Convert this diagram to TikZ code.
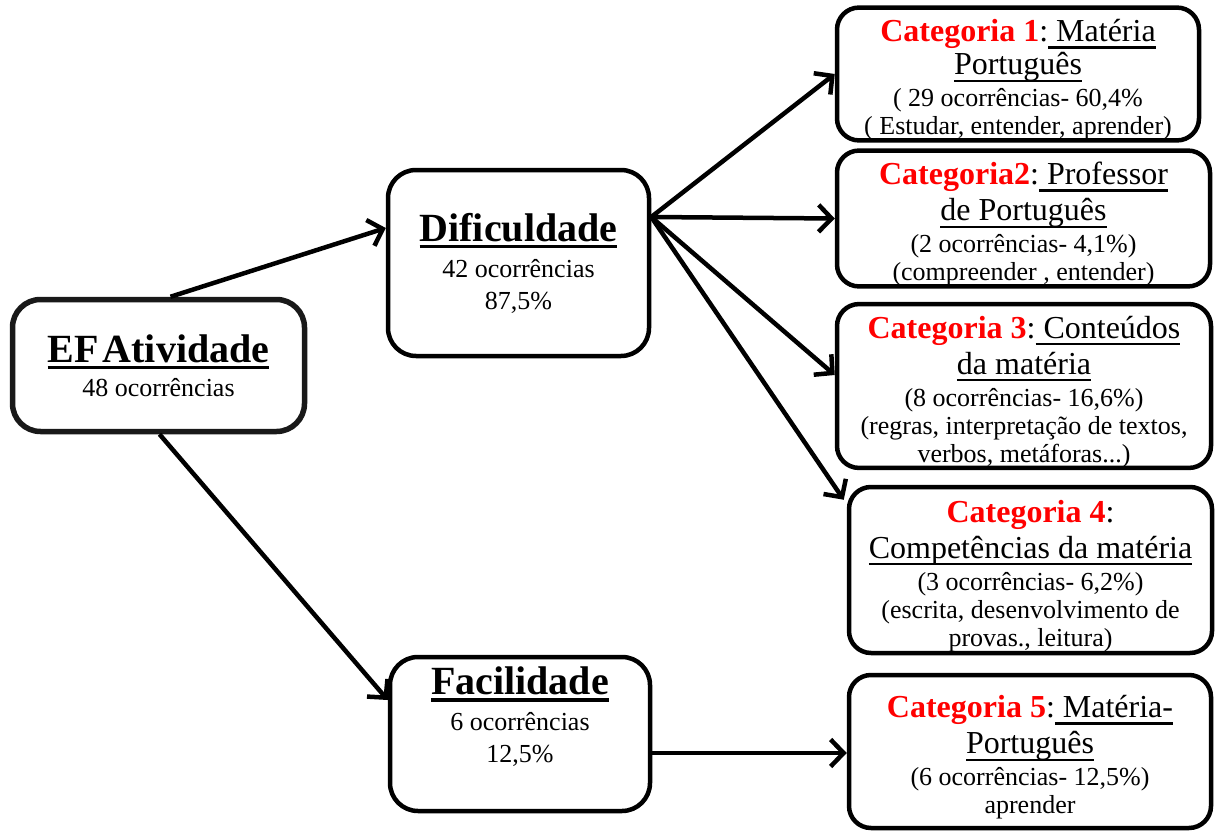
\documentclass[tikz,border=0pt]{standalone}
\usepackage{fontspec}
\setmainfont{Liberation Serif}
\usetikzlibrary{arrows.meta}
\definecolor{catred}{RGB}{255,0,0}
\newcommand{\ulfix}[3]{\setbox0=\hbox{#3}\leavevmode\rlap{\rule[-#2]{\wd0}{#1}}\box0}
\newcommand{\tul}[1]{\ulfix{3.5pt}{7pt}{#1}}
\newcommand{\cul}[1]{\ulfix{2.2pt}{7pt}{#1}}
\newcommand{\catred}[1]{\textcolor{catred}{\textbf{#1}}}
\newcommand{\hdfont}{\fontsize{32}{35}\selectfont}
\newcommand{\ttlfont}{\fontsize{40}{40}\selectfont\bfseries}
\newcommand{\topstrut}{\rule{0pt}{34pt}}
\begin{document}
\begin{tikzpicture}[x=1pt,y=-1pt,
  box/.style={draw, line width=4.5pt, rounded corners=22pt, align=center, inner sep=0pt, fill=white},
  mainbox/.style={box, rounded corners=28pt, font=\fontsize{26}{32}\selectfont},
  catbox/.style={box, font=\fontsize{26}{28}\selectfont},
  conn/.style={line width=4.5pt, -{Straight Barb[length=13pt,width=27pt]}}]
\useasboundingbox (0,0) rectangle (1218,832);

\node[mainbox, line width=5.5pt, draw=black!90, minimum width=292pt, minimum height=132pt] (ef) at (158.5,365.5)
  {{\ttlfont\tul{EF\kern4pt Atividade}}\\[2pt]48 ocorrências};
\node[mainbox, minimum width=261pt, minimum height=186pt] (dif) at (518.5,263)
  {{\ttlfont\tul{Dificuldade}}\\[4pt]42 ocorrências\\87,5\%};
\node[mainbox, minimum width=260pt, minimum height=154pt] (fac) at (520,734)
  {{\ttlfont\tul{Facilidade}}\\[4pt]6 ocorrências\\12,5\%\\[6pt]\mbox{}};

\node[catbox, minimum width=362pt, minimum height=124pt] (c1) at (1018,74)
  {{\hdfont\topstrut\catred{Categoria 1}:\cul{ Matéria}}\\[3pt]{\hdfont\cul{Português}}\\[4pt]( 29 ocorrências- 60,4\%\\( Estudar, entender, aprender)};
\node[catbox, minimum width=373pt, minimum height=133pt] (c2) at (1023.5,218.5)
  {{\hdfont\topstrut\catred{Categoria2}:\cul{ Professor}}\\[6pt]{\hdfont\cul{de Português}}\\[4pt](2 ocorrências- 4,1\%)\\(compreender , entender)};
\node[catbox, minimum width=374pt, minimum height=154pt] (c3) at (1024,386)
  {{\hdfont\topstrut\catred{Categoria 3}:\cul{ Conteúdos}}\\[6pt]{\hdfont\cul{da matéria}}\\[4pt](8 ocorrências- 16,6\%)\\(regras, interpretação de textos,\\verbos, metáforas...)};
\node[catbox, minimum width=363pt, minimum height=166pt] (c4) at (1030.5,570)
  {{\hdfont\topstrut\catred{Categoria 4}:}\\[6pt]{\hdfont\cul{Competências da matéria}}\\[4pt](3 ocorrências- 6,2\%)\\(escrita, desenvolvimento de\\provas., leitura)};
\node[catbox, minimum width=362pt, minimum height=153pt] (c5) at (1030,751.5)
  {{\hdfont\topstrut\catred{Categoria 5}:\cul{ Matéria-}}\\[6pt]{\hdfont\cul{Português}}\\[4pt](6 ocorrências- 12,5\%)\\aprender};

\draw[conn] ([xshift=12pt]ef.north) -- ([yshift=35pt]dif.west);
\draw[conn] ([xshift=1pt]ef.south) -- ([yshift=34pt]fac.west);
\coordinate (hub) at ([yshift=46pt]dif.east);
\draw[conn] (hub) -- (c1.west);
\draw[conn] (hub) -- (c2.west);
\draw[conn] (hub) -- ([yshift=11pt]c3.west);
\draw[conn] (hub) -- ([shift={(-3pt,-15pt)}]c4.north west);
\draw[conn] ([yshift=-19pt]fac.east) -- ([yshift=-19pt]fac.east -| c5.west);
\end{tikzpicture}
\end{document}
